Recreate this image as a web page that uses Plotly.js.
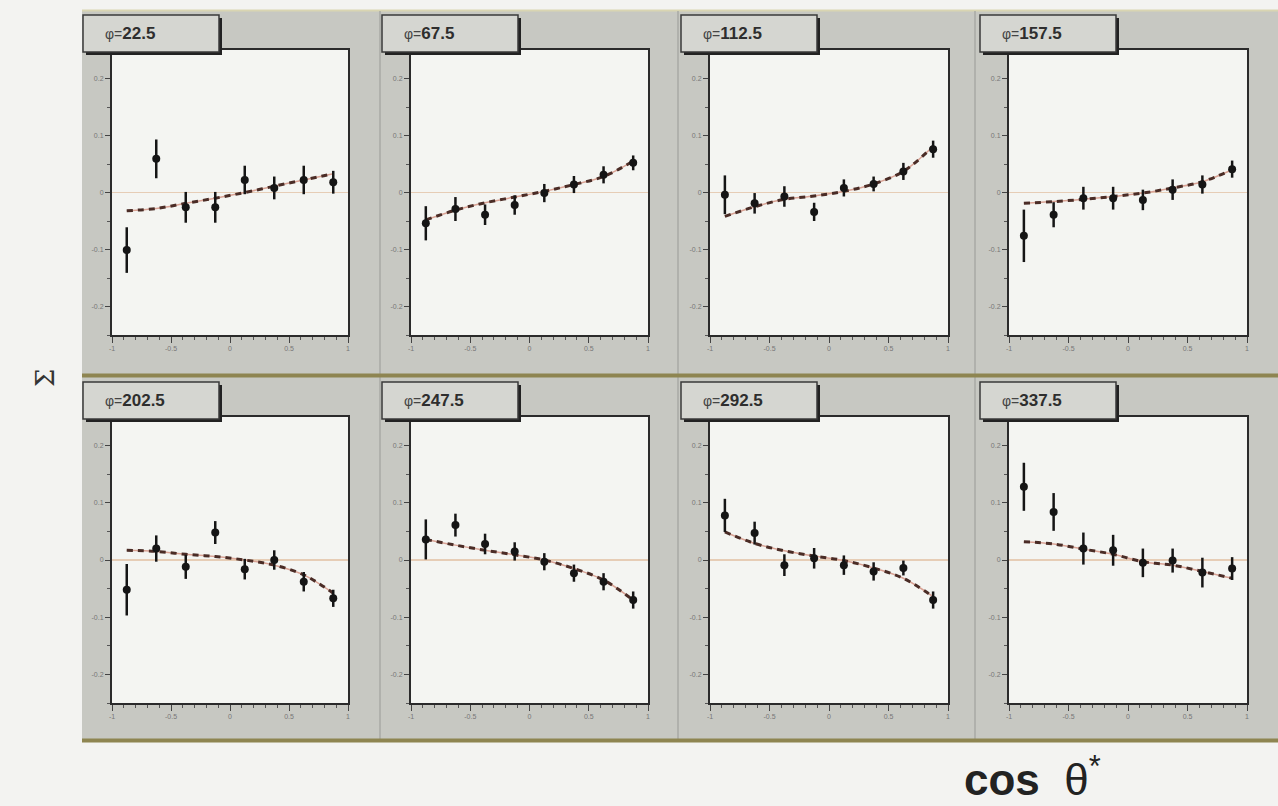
<!DOCTYPE html>
<html>
<head>
<meta charset="utf-8">
<script src="https://cdn.plot.ly/plotly-3.0.1.min.js"></script>
<style>html,body{margin:0;padding:0;background:#f3f3f1;}#chart{width:1278px;height:806px;}</style>
</head>
<body>
<div id="chart"></div>
<script>
// ---- data ----
const cosTheta = [-0.875, -0.625, -0.375, -0.125, 0.125, 0.375, 0.625, 0.875];
const phiLabels = ["22.5", "67.5", "112.5", "157.5", "202.5", "247.5", "292.5", "337.5"];
const xTickVals = [-1, -0.5, 0, 0.5, 1];
const xTickText = ["-1", "-0.5", "0", "0.5", "1"];
const yTickVals = [-0.2, -0.1, 0, 0.1, 0.2];
const yTickText = ["-0.2", "-0.1", "0", "0.1", "0.2"];

const sigma_22_5  = [-0.101, 0.059, -0.026, -0.026, 0.022, 0.008, 0.022, 0.018];
const error_22_5  = [0.040, 0.034, 0.027, 0.027, 0.025, 0.020, 0.025, 0.020];
const fit_22_5    = [-0.032, -0.028, -0.019, -0.010, 0.000, 0.011, 0.022, 0.033];

const sigma_67_5  = [-0.054, -0.029, -0.039, -0.022, -0.001, 0.014, 0.031, 0.052];
const error_67_5  = [0.030, 0.021, 0.018, 0.017, 0.016, 0.015, 0.015, 0.013];
const fit_67_5    = [-0.048, -0.031, -0.018, -0.008, 0.002, 0.014, 0.028, 0.055];

const sigma_112_5 = [-0.004, -0.019, -0.007, -0.034, 0.008, 0.015, 0.037, 0.076];
const error_112_5 = [0.034, 0.018, 0.018, 0.016, 0.015, 0.013, 0.015, 0.015];
const fit_112_5   = [-0.042, -0.025, -0.012, -0.006, 0.002, 0.015, 0.037, 0.081];

const sigma_157_5 = [-0.076, -0.039, -0.010, -0.010, -0.013, 0.005, 0.014, 0.041];
const error_157_5 = [0.046, 0.022, 0.020, 0.020, 0.018, 0.018, 0.016, 0.015];
const fit_157_5   = [-0.019, -0.016, -0.012, -0.007, -0.001, 0.008, 0.019, 0.040];

const sigma_202_5 = [-0.052, 0.020, -0.012, 0.048, -0.016, 0.000, -0.038, -0.067];
const error_202_5 = [0.045, 0.023, 0.021, 0.020, 0.018, 0.017, 0.017, 0.015];
const fit_202_5   = [0.017, 0.015, 0.010, 0.006, 0.000, -0.009, -0.026, -0.058];

const sigma_247_5 = [0.036, 0.061, 0.028, 0.015, -0.003, -0.023, -0.038, -0.070];
const error_247_5 = [0.035, 0.020, 0.018, 0.016, 0.015, 0.015, 0.015, 0.015];
const fit_247_5   = [0.036, 0.026, 0.017, 0.009, 0.000, -0.015, -0.035, -0.070];

const sigma_292_5 = [0.078, 0.047, -0.009, 0.003, -0.009, -0.020, -0.014, -0.070];
const error_292_5 = [0.029, 0.020, 0.019, 0.018, 0.017, 0.016, 0.013, 0.015];
const fit_292_5   = [0.049, 0.029, 0.016, 0.007, -0.001, -0.014, -0.032, -0.064];

const sigma_337_5 = [0.128, 0.084, 0.020, 0.017, -0.005, -0.001, -0.022, -0.015];
const error_337_5 = [0.042, 0.033, 0.028, 0.027, 0.025, 0.021, 0.026, 0.020];
const fit_337_5   = [0.032, 0.028, 0.019, 0.010, -0.003, -0.009, -0.020, -0.032];

const sigmaSets = [sigma_22_5, sigma_67_5, sigma_112_5, sigma_157_5, sigma_202_5, sigma_247_5, sigma_292_5, sigma_337_5];
const errorSets = [error_22_5, error_67_5, error_112_5, error_157_5, error_202_5, error_247_5, error_292_5, error_337_5];
const fitSets   = [fit_22_5, fit_67_5, fit_112_5, fit_157_5, fit_202_5, fit_247_5, fit_292_5, fit_337_5];

// ---- layout geometry (pixels) ----
const W = 1278, H = 806;
const px = x => x / W;
const py = y => 1 - y / H;
const cols = [[112, 348], [411, 648], [710, 948], [1009, 1247]];
const rows = [[50, 335], [417, 703]];

const traces = [];
const layout = {
  width: W, height: H, autosize: false,
  margin: {l: 0, r: 0, t: 0, b: 0, pad: 0},
  paper_bgcolor: '#f3f3f1',
  plot_bgcolor: 'rgba(0,0,0,0)',
  showlegend: false,
  font: {family: 'Liberation Sans, Arial, sans-serif', color: '#333'},
  shapes: [], annotations: []
};

// grey frame background
layout.shapes.push({type: 'rect', xref: 'paper', yref: 'paper', layer: 'below',
  x0: px(82), x1: px(1278), y0: py(742), y1: py(10), fillcolor: '#c7c8c2', line: {width: 0}});
layout.shapes.push({type: 'line', xref: 'paper', yref: 'paper', layer: 'below',
  x0: px(82), x1: px(1278), y0: py(10.5), y1: py(10.5), line: {color: '#d9d5b2', width: 2}});
[380, 678, 975].forEach(x => layout.shapes.push({type: 'line', xref: 'paper', yref: 'paper', layer: 'below',
  x0: px(x), x1: px(x), y0: py(740), y1: py(11), line: {color: '#a9aaa4', width: 1.5}}));
[375.5, 740.5].forEach(y => layout.shapes.push({type: 'line', xref: 'paper', yref: 'paper', layer: 'below',
  x0: px(82), x1: px(1278), y0: py(y), y1: py(y), line: {color: '#8e8551', width: 4}}));

for (let i = 0; i < 8; i++) {
  const r = Math.floor(i / 4), c = i % 4;
  const sfx = i === 0 ? '' : String(i + 1);
  const xa = 'x' + sfx, ya = 'y' + sfx;
  const [xl, xr] = cols[c];
  const [yt, yb] = rows[r];

  // white plot-area background
  layout.shapes.push({type: 'rect', xref: 'paper', yref: 'paper', layer: 'below',
    x0: px(xl), x1: px(xr), y0: py(yb), y1: py(yt), fillcolor: '#f4f5f2', line: {width: 0}});

  layout['xaxis' + sfx] = {
    domain: [px(xl), px(xr)], anchor: ya, range: [-1, 1],
    showgrid: false, zeroline: false,
    showline: true, mirror: true, linecolor: '#2b2b2b', linewidth: 2,
    ticks: 'outside', ticklen: 6, tickwidth: 1, tickcolor: '#444',
    tickvals: xTickVals, ticktext: xTickText,
    tickfont: {size: 7, color: '#777'},
    minor: {ticks: 'outside', ticklen: 3, dtick: 0.1, tickcolor: '#555', showgrid: false},
    fixedrange: true
  };
  layout['yaxis' + sfx] = {
    domain: [py(yb), py(yt)], anchor: xa, range: [-0.25, 0.25],
    showgrid: false,
    zeroline: true, zerolinecolor: '#e6cdb6', zerolinewidth: 1.2,
    showline: true, mirror: true, linecolor: '#2b2b2b', linewidth: 2,
    ticks: 'outside', ticklen: 5, tickwidth: 1, tickcolor: '#444',
    tickvals: yTickVals, ticktext: yTickText,
    tickfont: {size: 7, color: '#777'},
    minor: {ticks: 'outside', ticklen: 3, dtick: 0.05, tickcolor: '#555', showgrid: false},
    fixedrange: true
  };

  // fit curve: faint red underlay + dark dashed line
  traces.push({x: cosTheta, y: fitSets[i], xaxis: xa, yaxis: ya, type: 'scatter', mode: 'lines',
    line: {color: '#d9a395', width: 1.5, shape: 'spline'}, hoverinfo: 'skip'});
  traces.push({x: cosTheta, y: fitSets[i], xaxis: xa, yaxis: ya, type: 'scatter', mode: 'lines',
    line: {color: '#4a2c26', width: 3, dash: '6px,5px', shape: 'spline'}, hoverinfo: 'skip'});
  // data points with error bars
  traces.push({x: cosTheta, y: sigmaSets[i], xaxis: xa, yaxis: ya, type: 'scatter', mode: 'markers',
    marker: {color: '#151515', size: 8, symbol: 'circle'},
    error_y: {type: 'data', array: errorSets[i], visible: true, color: '#151515', thickness: 2.5, width: 0}});

  // label box with shadow
  const bx0 = xl - 29, by0 = yt - 35, bx1 = bx0 + 136, by1 = by0 + 37;
  layout.shapes.push({type: 'rect', xref: 'paper', yref: 'paper', layer: 'above',
    x0: px(bx0 + 3), x1: px(bx1 + 3), y0: py(by1 + 3), y1: py(by0 + 3), fillcolor: '#222', line: {width: 0}});
  layout.shapes.push({type: 'rect', xref: 'paper', yref: 'paper', layer: 'above',
    x0: px(bx0), x1: px(bx1), y0: py(by1), y1: py(by0), fillcolor: '#d5d6d1', line: {color: '#3a3a3a', width: 1.5}});
  layout.annotations.push({xref: 'paper', yref: 'paper', x: px(bx0 + 20), y: py((by0 + by1) / 2),
    xanchor: 'left', yanchor: 'middle', showarrow: false,
    text: '<span style="font-size:14px;color:#444">φ=</span><b>' + phiLabels[i] + '</b>',
    font: {size: 17, color: '#2e2e2e', family: 'Liberation Sans, Arial, sans-serif'}});
}

// axis titles
layout.annotations.push({xref: 'paper', yref: 'paper', x: px(45), y: py(378), xanchor: 'center', yanchor: 'middle',
  showarrow: false, text: 'Σ', textangle: -90, font: {size: 26, color: '#333', family: 'DejaVu Serif, serif'}});
layout.annotations.push({xref: 'paper', yref: 'paper', x: px(962), y: py(806), xanchor: 'left', yanchor: 'bottom',
  showarrow: false, text: '<b>cos</b>  <span style="font-size:44px">θ</span><sup>*</sup>',
  font: {size: 44, color: '#222', family: 'Liberation Sans, Arial, sans-serif'}});

Plotly.newPlot('chart', traces, layout, {staticPlot: true, displayModeBar: false});
</script>
</body>
</html>
